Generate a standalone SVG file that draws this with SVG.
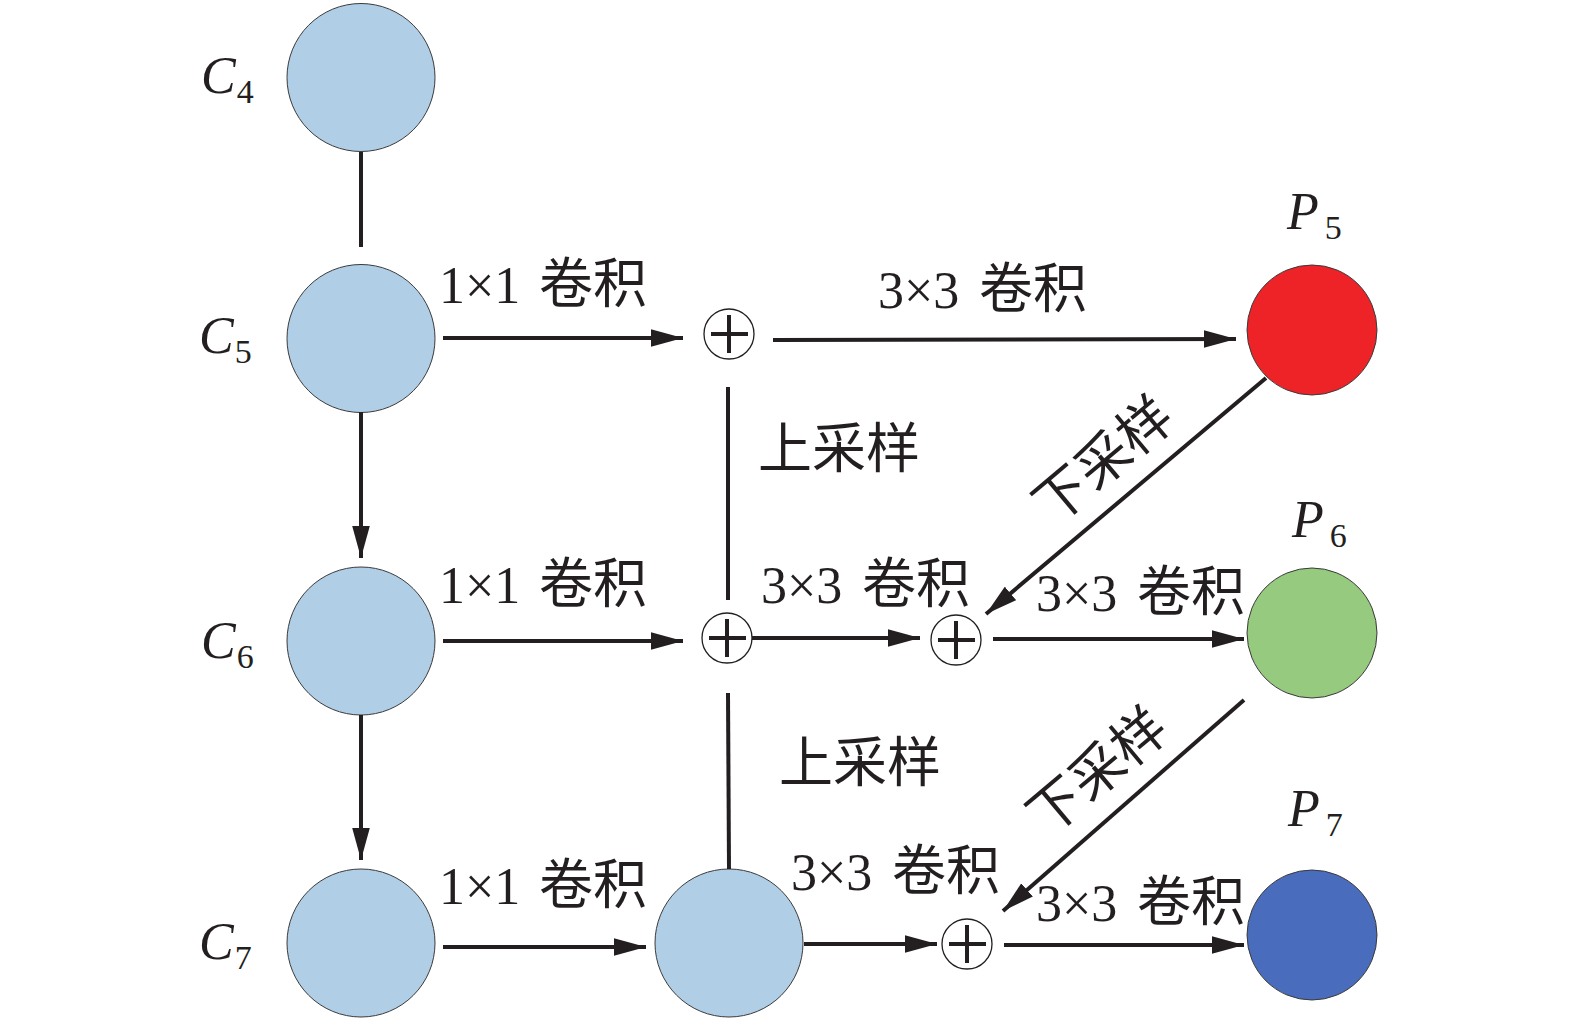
<svg xmlns="http://www.w3.org/2000/svg" width="1575" height="1024" viewBox="0 0 1575 1024">
<defs>
<marker id="ah" markerWidth="8" markerHeight="4.4" refX="8" refY="2.2" orient="auto" markerUnits="strokeWidth">
<path d="M0,0 L8,2.2 L0,4.4 Z" fill="#231F20"/>
</marker>
</defs>
<style>
.node{fill:#B0CFE7;stroke:#3a3a3a;stroke-width:1}
.sum circle{fill:#fff;stroke:#231F20;stroke-width:1.3}
.sum path{stroke:#231F20;stroke-width:4;fill:none}
.ln{stroke:#231F20;stroke-width:4;fill:none}
.arr{stroke:#231F20;stroke-width:4;fill:none;marker-end:url(#ah)}
.lbl{font-family:"Liberation Serif","Noto Sans CJK SC",serif;font-size:52px;fill:#231F20}
.cjk{font-family:"Noto Sans CJK SC",sans-serif;font-size:54px;fill:#231F20}
.var{font-family:"Liberation Serif",serif;font-style:italic;font-size:52px;fill:#231F20}
.sub{font-family:"Liberation Serif",serif;font-size:34px;fill:#231F20;font-style:normal}
</style>
<rect width="1575" height="1024" fill="#fff"/>
<g id="C4"><circle class="node" cx="361" cy="77.5" r="74"/><text class="var" x="201" y="93">C<tspan class="sub" dx="1" dy="10">4</tspan></text></g>
<g id="C5"><circle class="node" cx="361" cy="338.5" r="74"/><text class="var" x="199" y="353">C<tspan class="sub" dx="1" dy="10">5</tspan></text></g>
<g id="C6"><circle class="node" cx="361" cy="641" r="74"/><text class="var" x="201" y="658">C<tspan class="sub" dx="1" dy="10">6</tspan></text></g>
<g id="C7"><circle class="node" cx="361" cy="943" r="74"/><text class="var" x="199" y="959">C<tspan class="sub" dx="1" dy="10">7</tspan></text></g>
<g id="M7"><circle class="node" cx="729" cy="943" r="74"/></g>
<g id="P5"><circle cx="1312" cy="330" r="65" fill="#ED2327" stroke="#3a3a3a" stroke-width="1"/><text class="var" x="1287" y="229">P<tspan class="sub" dx="6" dy="10">5</tspan></text></g>
<g id="P6"><circle cx="1312" cy="633" r="65" fill="#96CA7E" stroke="#3a3a3a" stroke-width="1"/><text class="var" x="1292" y="537">P<tspan class="sub" dx="6" dy="10">6</tspan></text></g>
<g id="P7"><circle cx="1312" cy="935" r="65" fill="#4A6CBC" stroke="#3a3a3a" stroke-width="1"/><text class="var" x="1288" y="826">P<tspan class="sub" dx="6" dy="10">7</tspan></text></g>
<g id="S1" class="sum"><circle cx="729" cy="334" r="25"/><path d="M711,334 H748 M729,315 V353"/></g>
<g id="S2" class="sum"><circle cx="727" cy="638" r="25"/><path d="M709,638 H746 M727,619 V657"/></g>
<g id="S3" class="sum"><circle cx="956" cy="640" r="25"/><path d="M938,640 H975 M956,621 V659"/></g>
<g id="S4" class="sum"><circle cx="967" cy="944" r="25"/><path d="M949,944 H986 M967,925 V963"/></g>
<g id="connectors">
<path class="ln" d="M361,152 V247"/>
<path class="arr" d="M361,412 V558"/>
<path class="arr" d="M361,715 V860"/>
<path class="arr" d="M443,338 H683"/>
<path class="arr" d="M773,340 L1236,339"/>
<path class="ln" d="M728,387 V600"/>
<path class="arr" d="M443,641 H683"/>
<path class="arr" d="M752,638 H920"/>
<path class="arr" d="M993,639 H1244"/>
<path class="arr" d="M1266,378 L986,614"/>
<path class="ln" d="M728,693 L729,869"/>
<path class="arr" d="M443,947 H646"/>
<path class="arr" d="M804,944 H937"/>
<path class="arr" d="M1004,945 H1244"/>
<path class="arr" d="M1244,700 L1003,911"/>
</g>
<g id="labels">
<text class="lbl" x="439" y="303">1×1<tspan class="cjk" x="539">卷积</tspan></text>
<text class="lbl" x="878" y="308">3×3<tspan class="cjk" x="979">卷积</tspan></text>
<text class="cjk" x="758" y="468">上采样</text>
<text class="lbl" x="439" y="603">1×1<tspan class="cjk" x="539">卷积</tspan></text>
<text class="lbl" x="761" y="603">3×3<tspan class="cjk" x="862">卷积</tspan></text>
<text class="lbl" x="1036" y="611">3×3<tspan class="cjk" x="1137">卷积</tspan></text>
<text class="cjk" x="779" y="782">上采样</text>
<text class="lbl" x="439" y="904">1×1<tspan class="cjk" x="539">卷积</tspan></text>
<text class="lbl" x="791" y="890">3×3<tspan class="cjk" x="892">卷积</tspan></text>
<text class="lbl" x="1036" y="921">3×3<tspan class="cjk" x="1137">卷积</tspan></text>
<text class="cjk" text-anchor="middle" transform="translate(1104,461) rotate(-40)" y="18">下采样</text>
<text class="cjk" text-anchor="middle" transform="translate(1098,772) rotate(-40)" y="18">下采样</text>
</g>
</svg>
